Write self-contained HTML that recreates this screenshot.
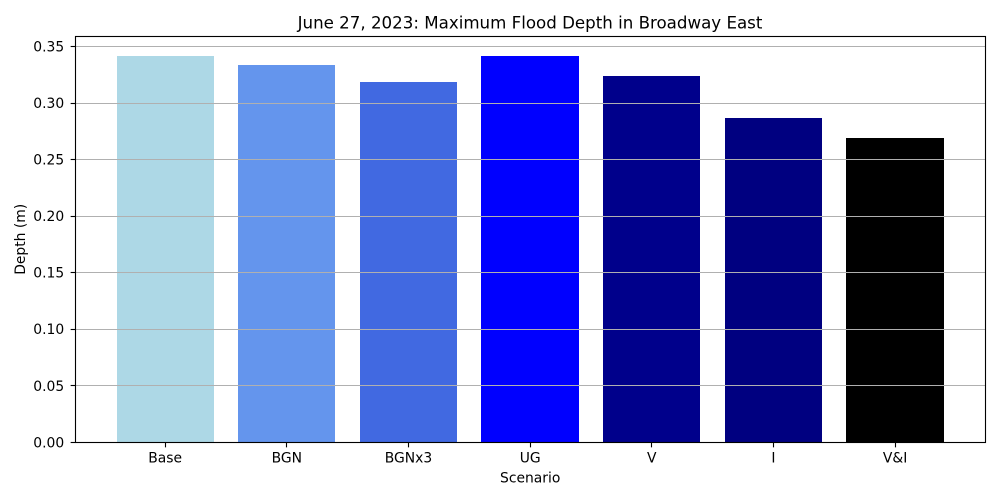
<!DOCTYPE html>
<html lang="en">
<head>
<meta charset="utf-8">
<title>June 27, 2023: Maximum Flood Depth in Broadway East</title>
<style>
  html, body { margin: 0; padding: 0; background: #fff; width: 1000px; height: 500px; overflow: hidden; }
  svg { display: block; }
  text { font-family: "DejaVu Sans", "Liberation Sans", sans-serif; fill: #000; }
</style>
</head>
<body>
<svg id="chart" xmlns="http://www.w3.org/2000/svg" width="1000" height="500" viewBox="0 0 1000 500">
  <rect x="0" y="0" width="1000" height="500" fill="#ffffff"></rect>
  <text x="530" y="28.3" font-size="16.67" text-anchor="middle">June 27, 2023: Maximum Flood Depth in Broadway East</text>
  <text x="530.2" y="482.3" font-size="13.89" text-anchor="middle">Scenario</text>
  <text x="0" y="0" font-size="13.89" text-anchor="middle" transform="translate(25.2 239.3) rotate(-90)">Depth (m)</text>
  <g id="bars"></g>
  <g id="grid"></g>
  <g id="y-axis"></g>
  <g id="x-axis"></g>
  <g id="spines"></g>
</svg>
<script>
const categories = ["Base", "BGN", "BGNx3", "UG", "V", "I", "V&I"];
const depthValues = [0.3419, 0.3336, 0.3186, 0.3419, 0.3239, 0.2867, 0.2690];
const barColors = ["#add8e6", "#6495ed", "#4169e1", "#0000ff", "#00008b", "#000080", "#000000"];
const yTickValues = [0, 0.05, 0.10, 0.15, 0.20, 0.25, 0.30, 0.35];
const yTickLabels = ["0.00", "0.05", "0.10", "0.15", "0.20", "0.25", "0.30", "0.35"];

const NS = "http://www.w3.org/2000/svg";
const plotLeft = 75.15, plotWidth = 910, plotTop = 36.3, plotBottom = 442.3;
const barWidth = 0.8;
const xMargin = 0.05 * (categories.length - 1 + barWidth);
const xMin = -barWidth / 2 - xMargin;
const xMax = categories.length - 1 + barWidth / 2 + xMargin;
const yMax = Math.max(...depthValues) * 1.05;

function xScale(i) { return plotLeft + (i - xMin) / (xMax - xMin) * plotWidth; }
function yScale(v) { return plotBottom - v / yMax * (plotBottom - plotTop); }
function crisp(p) { return Math.floor(p) + 0.5; }
function make(tag, attrs, parent) {
  const el = document.createElementNS(NS, tag);
  for (const key in attrs) el.setAttribute(key, attrs[key]);
  parent.appendChild(el);
  return el;
}

const barsGroup = document.getElementById("bars");
const gridGroup = document.getElementById("grid");
const yAxisGroup = document.getElementById("y-axis");
const xAxisGroup = document.getElementById("x-axis");
const spinesGroup = document.getElementById("spines");
const frameLeft = crisp(plotLeft), frameRight = crisp(plotLeft + plotWidth);
const frameTop = crisp(plotTop), frameBottom = crisp(plotBottom);

categories.forEach(function (name, i) {
  const x0 = Math.round(xScale(i - barWidth / 2));
  const x1 = Math.round(xScale(i + barWidth / 2));
  const yTop = Math.round(yScale(depthValues[i]));
  const bar = make("rect", { x: x0, y: yTop, width: x1 - x0, height: Math.round(plotBottom) - yTop, fill: barColors[i] }, barsGroup);
  
  

  const tx = crisp(xScale(i));
  const tick = make("line", { x1: tx, x2: tx, y1: frameBottom, y2: frameBottom + 4.86, stroke: "#000", "stroke-width": 1.11 }, xAxisGroup);
  
  

  const label = make("text", { x: xScale(i), y: 462.3, "font-size": 13.89, "text-anchor": "middle" }, xAxisGroup);
  label.textContent = name;
  
  
});

yTickValues.forEach(function (v, i) {
  const ty = crisp(yScale(v));
  const gridLine = make("line", { x1: plotLeft, x2: plotLeft + plotWidth, y1: ty, y2: ty, stroke: "#b0b0b0", "stroke-width": 1.11 }, gridGroup);
  
  

  const tick = make("line", { x1: frameLeft - 4.86, x2: frameLeft, y1: ty, y2: ty, stroke: "#000", "stroke-width": 1.11 }, yAxisGroup);
  
  

  const label = make("text", { x: 64.2, y: yScale(v) + 5, "font-size": 13.89, "text-anchor": "end" }, yAxisGroup);
  label.textContent = yTickLabels[i];
  
  
});

const frame = make("rect", { x: frameLeft, y: frameTop, width: frameRight - frameLeft, height: frameBottom - frameTop, fill: "none", stroke: "#000", "stroke-width": 1.11 }, spinesGroup);


</script>
</body>
</html>
